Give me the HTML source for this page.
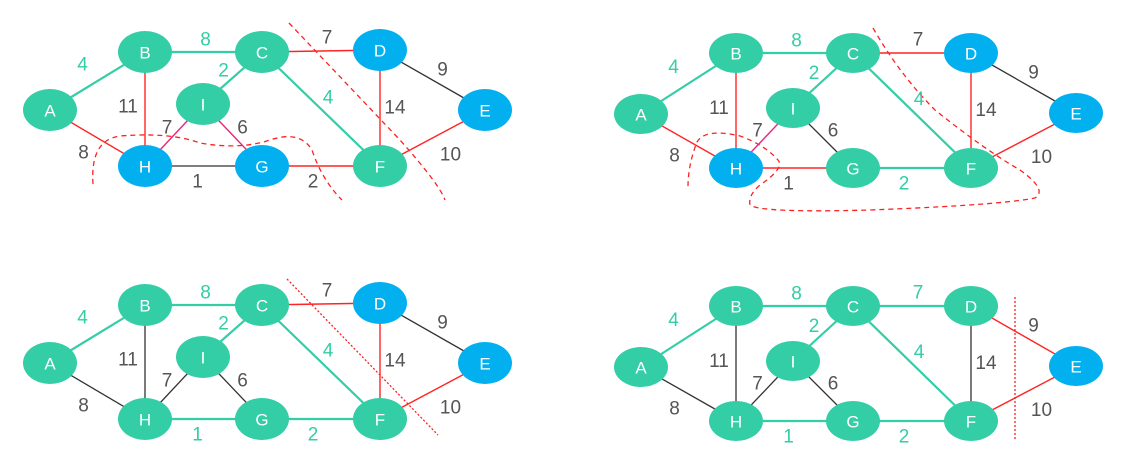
<!DOCTYPE html>
<html><head><meta charset="utf-8"><style>
body{margin:0;background:#fff;}
svg{display:block;font-family:"Liberation Sans","DejaVu Sans",sans-serif;}
</style></head><body>
<svg id="chart" width="1143" height="461" viewBox="0 0 1143 461" xmlns="http://www.w3.org/2000/svg">
<g id="cuts" fill="none" stroke="#ff2020" stroke-width="1.3">
<path stroke-dasharray="5,4" d="M289,23 L400,140 Q440,185 445,200"/>
<path stroke-dasharray="5,4" d="M93,184 Q90,140 120,136 Q170,132 200,143 Q240,150 270,140 Q300,130 312,150 Q322,180 342,200"/>
<path stroke-dasharray="5,4" d="M873,28 Q900,75 935,110 Q985,150 1020,170 Q1048,190 1035,198 Q1000,205 870,210 Q760,213 750,205 Q748,195 760,185 Q785,168 778,160 Q765,145 740,136 Q705,128 697,142 Q688,165 688,187"/>
<line stroke-dasharray="2,2" x1="287" y1="279" x2="438" y2="435"/>
<line stroke-dasharray="2,2" x1="1015" y1="297" x2="1015" y2="440"/>
</g>
<g id="graphs"></g>
</svg>
<script>
const nodeNames = ["A","B","C","D","E","F","G","H","I"];
const edgeFrom = ["A","B","I","C","D","B","C","D","H","I","A","H","G","E"];
const edgeTo   = ["B","C","C","D","E","H","F","F","I","G","H","G","F","F"];
const edgeWeights = [4,8,2,7,9,11,4,14,7,6,8,1,2,10];
// per-panel edge state: t=tree(teal), r=red, k=dark, m=magenta
const panelEdgeStates = [
 ["t","t","t","r","k","r","t","r","m","m","r","k","r","r"],
 ["t","t","t","r","k","r","t","r","m","k","r","r","t","r"],
 ["t","t","t","r","k","k","t","r","k","k","k","t","t","r"],
 ["t","t","t","t","r","k","t","k","k","k","k","t","t","r"]
];
const panelBlueNodes = [["D","E","H","G"],["D","E","H"],["D","E"],["E"]];

// layout
const layoutA = {A:[50,110],B:[145,52],C:[262,52],D:[380,50],E:[485,110],I:[203,104],H:[145,166],G:[262,166],F:[380,166]};
const layoutB = {A:[641,114],B:[736,53],C:[853,53],D:[971,53],E:[1076,113],I:[793,108],H:[736,168],G:[853,168],F:[971,168]};
const panels = [
 {lay:layoutA,dy:0,rx:27,ry:21},
 {lay:layoutB,dy:0,rx:27,ry:20},
 {lay:layoutA,dy:253,rx:27,ry:21},
 {lay:layoutB,dy:253,rx:27,ry:20}
];
const labelOff = [[-15,-16],[2,-12],[-9,-7],[6,-13],[10,-10],[-17,-2],[7,-11],[15,0],[-7,-7],[10,-7],[-14,15],[-6,16],[-8,16],[18,17]];
const strokeCol = {t:"#33cda6",r:"#ff2424",k:"#333",m:"#e8247a"};
const strokeW = {t:2.2,r:1.4,k:1.3,m:1.4};
const NS="http://www.w3.org/2000/svg";
const root=document.getElementById("graphs");
panels.forEach((p,pi)=>{
  const g=document.createElementNS(NS,"g");
  
  
  root.appendChild(g);
  const pos=n=>[p.lay[n][0],p.lay[n][1]+p.dy];
  edgeFrom.forEach((f,i)=>{
    const a=pos(f),b=pos(edgeTo[i]),s=panelEdgeStates[pi][i];
    const l=document.createElementNS(NS,"line");
    
    
    l.setAttribute("x1",a[0]);l.setAttribute("y1",a[1]);l.setAttribute("x2",b[0]);l.setAttribute("y2",b[1]);
    l.setAttribute("stroke",strokeCol[s]);l.setAttribute("stroke-width",strokeW[s]);
    g.appendChild(l);
    const t=document.createElementNS(NS,"text");
    
    
    t.setAttribute("x",(a[0]+b[0])/2+labelOff[i][0]);t.setAttribute("y",(a[1]+b[1])/2+labelOff[i][1]);
    t.setAttribute("text-anchor","middle");t.setAttribute("dominant-baseline","central");
    t.setAttribute("font-size","19");t.setAttribute("fill",s==="t"?"#33cda6":"#555");
    t.textContent=edgeWeights[i];
    g.appendChild(t);
  });
  nodeNames.forEach(n=>{
    const c=pos(n);
    const e=document.createElementNS(NS,"ellipse");
    
    
    e.setAttribute("cx",c[0]);e.setAttribute("cy",c[1]);e.setAttribute("rx",p.rx);e.setAttribute("ry",p.ry);
    e.setAttribute("fill",panelBlueNodes[pi].includes(n)?"#02b0f0":"#33cda6");
    g.appendChild(e);
    const t=document.createElementNS(NS,"text");
    
    
    t.setAttribute("x",c[0]);t.setAttribute("y",c[1]+1);
    t.setAttribute("text-anchor","middle");t.setAttribute("dominant-baseline","central");
    t.setAttribute("font-size","17");t.setAttribute("fill","#fff");
    t.textContent=n;
    g.appendChild(t);
  });
});
</script>
</body></html>
